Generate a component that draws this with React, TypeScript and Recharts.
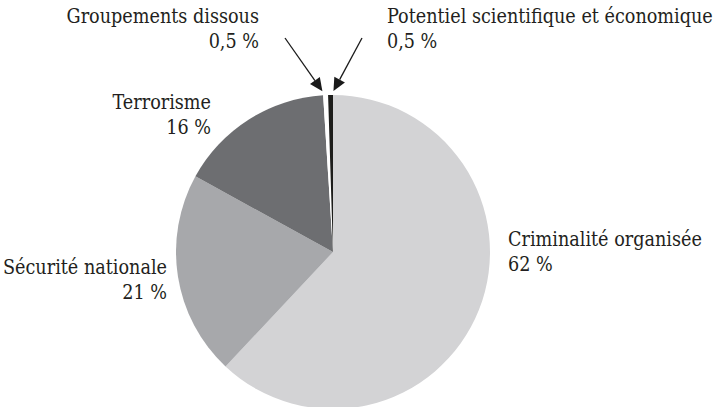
import React from "react";
import { PieChart, Pie, Cell } from "recharts";

const CATEGORIES = [
  "Criminalité organisée",
  "Sécurité nationale",
  "Terrorisme",
  "Groupements dissous",
  "Potentiel scientifique et économique",
];
const VALUES = [62, 21, 16, 0.5, 0.5];
const VALUE_LABELS = ["62 %", "21 %", "16 %", "0,5 %", "0,5 %"];
const COLORS = ["#d3d3d5", "#a7a8ab", "#6d6e71", "#ffffff", "#1d1d1b"];

const data = CATEGORIES.map((name, i) => ({ name, value: VALUES[i] }));

// label placement relative to the pie centre: dx, dy of first baseline, anchor
const LABEL_LAYOUT = [
  { dx: 175, dy: -6, anchor: "start" },
  { dx: -166, dy: 22, anchor: "end" },
  { dx: -122, dy: -143, anchor: "end" },
  { dx: -74, dy: -229, anchor: "end", arrow: { sx: -48, sy: -214, off: -3 } },
  { dx: 54, dy: -229, anchor: "start", arrow: { sx: 29, sy: -214, off: 3 } },
];

const FONT = '"DejaVu Serif Condensed", "DejaVu Serif", serif';
const RAD = Math.PI / 180;

const renderLabel = (props: any) => {
  const { cx, cy, midAngle, outerRadius, index } = props;
  const l = LABEL_LAYOUT[index];
  const x = cx + l.dx;
  const y = cy + l.dy;
  let arrow = null;
  if (l.arrow) {
    const r = outerRadius + 4;
    const tx = cx + r * Math.cos(-midAngle * RAD) + l.arrow.off;
    const ty = cy + r * Math.sin(-midAngle * RAD);
    const sx = cx + l.arrow.sx;
    const sy = cy + l.arrow.sy;
    const ang = Math.atan2(ty - sy, tx - sx);
    const len = 13;
    const w = 6;
    const bx = tx - len * Math.cos(ang);
    const by = ty - len * Math.sin(ang);
    const p1 = `${bx + w * Math.sin(ang)},${by - w * Math.cos(ang)}`;
    const p2 = `${bx - w * Math.sin(ang)},${by + w * Math.cos(ang)}`;
    arrow = (
      <g>
        <line x1={sx} y1={sy} x2={bx} y2={by} stroke="#1a1a1a" strokeWidth={1.3} />
        <polygon points={`${tx},${ty} ${p1} ${p2}`} fill="#1a1a1a" />
      </g>
    );
  }
  const textStyle = { fontFamily: FONT, fontSize: 19.6, fontStretch: "condensed" as const };
  return (
    <g key={`lbl-${index}`}>
      {arrow}
      <text x={x} y={y} textAnchor={l.anchor} style={textStyle} fill="#231f20">
        {CATEGORIES[index]}
      </text>
      <text x={x} y={y + 25} textAnchor={l.anchor} style={textStyle} fill="#231f20">
        {VALUE_LABELS[index]}
      </text>
    </g>
  );
};

export default function App() {
  return (
    <div style={{ position: "absolute", left: 0, top: 0, width: 713, height: 407, background: "#fff" }}>
      <PieChart width={713} height={407} margin={{ top: 0, right: 0, bottom: 0, left: 0 }}>
        <Pie
          data={data}
          dataKey="value"
          nameKey="name"
          cx={333}
          cy={252}
          outerRadius={157}
          startAngle={90}
          endAngle={-270}
          stroke="none"
          labelLine={false}
          label={renderLabel}
          isAnimationActive={false}
        >
          {data.map((d, i) => (
            <Cell key={`cell-${i}`} fill={COLORS[i]} />
          ))}
        </Pie>
      </PieChart>
    </div>
  );
}
